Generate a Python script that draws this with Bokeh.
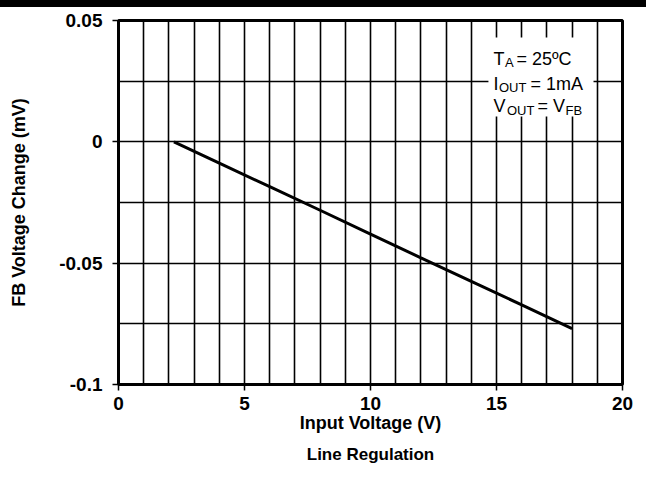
from bokeh.plotting import figure
from bokeh.models import FixedTicker, Label, BoxAnnotation, Title, Div, Range1d
from bokeh.layouts import column
from bokeh.embed import file_html
from bokeh.resources import INLINE

# ---- data ----
input_voltage = [2.2, 4, 6, 8, 10, 12, 14, 16, 18]
fb_change = [0.0, -0.0088, -0.0185, -0.0282, -0.038, -0.0478, -0.0575, -0.0672, -0.077]

x_ticks = [0, 5, 10, 15, 20]
x_tick_labels = ["0", "5", "10", "15", "20"]
y_ticks = [-0.1, -0.05, 0, 0.05]
y_tick_labels = ["-0.1", "-0.05", "0", "0.05"]
x_grid = list(range(0, 21))
y_grid = [-0.1, -0.075, -0.05, -0.025, 0, 0.025, 0.05]

FONT = "Liberation Sans"

bar = Div(width=646, height=7, styles={"background-color": "black"}, margin=(0, 0, 0, 0))

p = figure(width=646, height=472, output_backend="svg", toolbar_location=None,
           x_range=Range1d(0, 20), y_range=Range1d(-0.1, 0.05),
           min_border_left=118, min_border_right=24, min_border_top=13, min_border_bottom=95,
           background_fill_color="white", border_fill_color="white")
p.margin = (0, 0, 0, 0)

p.outline_line_color = "black"
p.outline_line_width = 3

# grid
p.xgrid.ticker = FixedTicker(ticks=x_grid)
p.ygrid.ticker = FixedTicker(ticks=y_grid)
p.grid.grid_line_color = "black"
p.grid.grid_line_width = 1.6
p.grid.grid_line_alpha = 1.0

# axes
p.xaxis.ticker = FixedTicker(ticks=x_ticks)
p.yaxis.ticker = FixedTicker(ticks=y_ticks)
p.xaxis.major_label_overrides = dict(zip(x_ticks, x_tick_labels))
p.yaxis.major_label_overrides = dict(zip(y_ticks, y_tick_labels))
p.axis.axis_line_width = 3
p.axis.axis_line_color = "black"
p.axis.major_tick_out = 6
p.axis.major_tick_in = 0
p.axis.major_tick_line_width = 1.5
p.axis.minor_tick_out = 0
p.axis.minor_tick_in = 0
p.axis.major_label_text_font = FONT
p.axis.major_label_text_font_style = "bold"
p.axis.major_label_text_font_size = "19px"
p.axis.major_label_text_color = "black"
p.xaxis.major_label_standoff = 6
p.yaxis.major_label_standoff = 10

p.xaxis.axis_label = "Input Voltage (V)"
p.yaxis.axis_label = "FB Voltage Change (mV)"
p.axis.axis_label_text_font = FONT
p.axis.axis_label_text_font_style = "bold"
p.axis.axis_label_text_font_size = "18px"
p.axis.axis_label_text_color = "black"
p.xaxis.axis_label_standoff = 0
p.yaxis.axis_label_standoff = 27

caption = Title(text="Line Regulation", align="center", text_font=FONT,
                text_font_style="bold", text_font_size="17px", text_color="black",
                standoff=14)
p.add_layout(caption, "below")

# data line
p.line(input_voltage, fb_change, line_color="black", line_width=3)

# annotation box
p.add_layout(BoxAnnotation(left=14.68, right=18.85, top=0.043, bottom=0.0104,
                           fill_color="white", fill_alpha=1.0, line_alpha=0))

X0 = 14.88
def piece(txt, dx, y, size):
    p.add_layout(Label(x=X0, y=y, x_offset=dx, text=txt, text_font=FONT,
                       text_font_size=size, text_color="black",
                       text_baseline="alphabetic", text_align="left"))

SUB = 0.0018
y1, y2, y3 = 0.0343, 0.0240, 0.0146
piece("T", 0, y1, "18px")
piece("A", 11.5, y1 - SUB, "13px")
piece("= 25ºC", 23, y1, "18px")
piece("I", 0, y2, "18px")
piece("OUT", 5.5, y2 - SUB, "13px")
piece("= 1mA", 37, y2, "18px")
piece("V", 0, y3, "18px")
piece("OUT", 13.5, y3 - SUB, "13px")
piece("= V", 44, y3, "18px")
piece("FB", 72, y3 - SUB, "13px")

layout = column(bar, p, spacing=0)
open("out.html", "w").write(file_html(layout, INLINE))
